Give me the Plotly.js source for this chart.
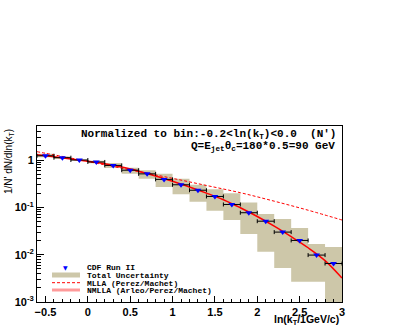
<!DOCTYPE html>
<html>
<head>
<meta charset="utf-8">
<script src="https://cdn.plot.ly/plotly-3.0.1.min.js"></script>
<style>
  html, body { margin: 0; padding: 0; background: white; }
  #chart { width: 409px; height: 327px; }
</style>
</head>
<body>
<div id="chart"></div>
<script>
// CDF Run II, bin centres in ln(kT/1GeV/c), bins 0.2 wide
const binCenters = [-0.5, -0.3, -0.1, 0.1, 0.3, 0.5, 0.7, 0.9, 1.1, 1.3, 1.5, 1.7, 1.9, 2.1, 2.3, 2.5, 2.7, 2.9];
const binWidth = 0.2;
const cdfValues = [1.23, 1.12, 1.00, 0.91, 0.77, 0.61, 0.51, 0.39, 0.30, 0.23, 0.17, 0.115, 0.077, 0.051, 0.030, 0.020, 0.0098, 0.0065];
// total uncertainty band (lower / upper edge of each box)
const bandLow  = [1.14, 1.05, 0.98, 0.86, 0.68, 0.51, 0.40, 0.27, 0.19, 0.131, 0.085, 0.054, 0.0273, 0.0115, 0.0052, 0.00267, 0.00267, 0.0008];
const bandHigh = [1.36, 1.19, 1.02, 0.96, 0.87, 0.69, 0.61, 0.51, 0.40, 0.30, 0.24, 0.198, 0.126, 0.072, 0.0566, 0.0365, 0.0168, 0.0145];

// MLLA (Perez/Machet)
const mllaX = [-0.6, -0.2, 0.2, 0.6, 1.0, 1.4, 1.8, 2.2, 2.6, 3.0];
const mllaY = [1.50, 1.10, 0.79, 0.57, 0.41, 0.29, 0.204, 0.135, 0.087, 0.054];

// NMLLA (Arleo/Perez/Machet)
const nmllaX = [-0.6, -0.4, -0.2, 0, 0.2, 0.4, 0.6, 0.8, 1.0, 1.2, 1.4, 1.6, 1.8, 2.0, 2.2, 2.4, 2.6, 2.8, 3.0];
const nmllaY = [1.30, 1.17, 1.05, 0.94, 0.83, 0.71, 0.58, 0.46, 0.355, 0.27, 0.20, 0.145, 0.098, 0.064, 0.040, 0.024, 0.014, 0.0075, 0.0032];

const yTickVals = [0.001, 0.01, 0.1, 1];
const yTickText = ['10<sup>-3</sup>', '10<sup>-2</sup>', '10<sup>-1</sup>', '1'];

const tan = '#cdc7a9';
const mono = 'Liberation Mono';

// boxes of the uncertainty band, one closed polygon per bin
const boxX = [], boxY = [];
binCenters.forEach((c, i) => {
    const lo = c - binWidth / 2, hi = c + binWidth / 2;
    boxX.push(lo, hi, hi, lo, lo, null);
    boxY.push(bandLow[i], bandLow[i], bandHigh[i], bandHigh[i], bandLow[i], null);
});

// minor ticks on log axis: 2..9 per decade
const minorY = [];
[0.001, 0.01, 0.1, 1].forEach(d => {
    for (let k = 2; k <= 9; k++) minorY.push(d * k);
});

const traces = [
    {
        x: boxX, y: boxY, type: 'scatter', mode: 'none',
        fill: 'toself', fillcolor: tan, hoverinfo: 'skip'
    },
    {
        x: mllaX, y: mllaY, type: 'scatter', mode: 'lines',
        line: { color: '#ff0000', width: 1, dash: '3px,2px', shape: 'spline' }
    },
    {
        x: nmllaX, y: nmllaY, type: 'scatter', mode: 'lines',
        line: { color: '#ff0000', width: 1.5, shape: 'spline' }
    },
    {
        x: binCenters, y: cdfValues, type: 'scatter', mode: 'markers',
        marker: { symbol: 'triangle-down', size: 6, color: '#0000ff' },
        error_x: { type: 'constant', value: binWidth / 2, color: 'black', thickness: 1, width: 2 }
    }
];

// helpers: page pixel -> paper coordinates (plot area 37..342 x 126..302)
const px = p => (p - 37) / 305;
const py = p => (302 - p) / 176;

const legendFont = { family: mono, size: 8, color: 'black', weight: 'bold' };
const annotations = [
    {
        text: "Normalized to bin:-0.2<ln(k<sub>T</sub>)<0.0  (N')",
        xref: 'paper', yref: 'paper', x: px(338), y: py(134),
        xanchor: 'right', yanchor: 'middle', showarrow: false,
        font: { family: mono, size: 11, color: 'black', weight: 'bold' }
    },
    {
        text: 'Q=E<sub>jet</sub>θ<sub>c</sub>=180*0.5=90 GeV',
        xref: 'paper', yref: 'paper', x: px(337), y: py(146),
        xanchor: 'right', yanchor: 'middle', showarrow: false,
        font: { family: mono, size: 11, color: 'black', weight: 'bold' }
    },
    {
        // rotated text: plotly anchors on the unrotated box, hence the offset
        text: "1/N' dN/dln(k<sub>T</sub>)", textangle: -90,
        xref: 'paper', yref: 'paper', x: px(9), y: py(162),
        xanchor: 'center', yanchor: 'middle', showarrow: false,
        font: { family: 'Liberation Sans', size: 10, color: 'black' }
    },
    {
        text: 'ln(k<sub>T</sub>/1GeV/c)',
        xref: 'paper', yref: 'paper', x: px(341), y: py(320),
        xanchor: 'right', yanchor: 'middle', showarrow: false,
        font: { family: 'Liberation Sans', size: 10.5, color: 'black', weight: 'bold' }
    },
    // legend
    {
        text: '▼', xref: 'paper', yref: 'paper', x: px(65), y: py(267),
        xanchor: 'center', yanchor: 'middle', showarrow: false,
        font: { family: 'DejaVu Sans', size: 6, color: '#0000ff' }
    },
    { text: 'CDF Run II', xref: 'paper', yref: 'paper', x: px(85), y: py(267), xanchor: 'left', yanchor: 'middle', showarrow: false, font: legendFont },
    { text: 'Total Uncertainty', xref: 'paper', yref: 'paper', x: px(85), y: py(275), xanchor: 'left', yanchor: 'middle', showarrow: false, font: legendFont },
    { text: 'MLLA (Perez/Machet)', xref: 'paper', yref: 'paper', x: px(85), y: py(283), xanchor: 'left', yanchor: 'middle', showarrow: false, font: legendFont },
    { text: 'NMLLA (Arleo/Perez/Machet)', xref: 'paper', yref: 'paper', x: px(85), y: py(290.5), xanchor: 'left', yanchor: 'middle', showarrow: false, font: legendFont }
];

const shapes = [
    { type: 'rect', xref: 'paper', yref: 'paper', x0: px(52), x1: px(80), y0: py(277.5), y1: py(272.5), fillcolor: tan, line: { width: 0 } },
    { type: 'line', xref: 'paper', yref: 'paper', x0: px(52), x1: px(80), y0: py(282.7), y1: py(282.7), line: { color: '#ff0000', width: 1, dash: '3px,2px' } },
    { type: 'line', xref: 'paper', yref: 'paper', x0: px(52), x1: px(80), y0: py(290), y1: py(290), line: { color: '#ff9a9a', width: 3 } }
];

const tickFont = { family: 'Liberation Sans', size: 11, color: 'black', weight: 'bold' };

const layout = {
    width: 409,
    height: 327,
    margin: { l: 37, r: 67, t: 126, b: 25 },
    paper_bgcolor: 'white',
    plot_bgcolor: 'white',
    showlegend: false,
    xaxis: {
        range: [-0.6, 3.0],
        tickmode: 'linear', tick0: 0, dtick: 0.5,
        ticks: 'inside', ticklen: 6, tickcolor: 'black',
        minor: { dtick: 0.1, ticks: 'inside', ticklen: 3, tickcolor: 'black' },
        showline: true, linecolor: 'black', linewidth: 1, mirror: true,
        showgrid: false, zeroline: false,
        tickfont: tickFont
    },
    yaxis: {
        type: 'log',
        range: [-3, 0.719],
        tickmode: 'array', tickvals: yTickVals, ticktext: yTickText,
        ticks: 'inside', ticklen: 7, tickcolor: 'black',
        minor: { tickmode: 'array', tickvals: minorY, ticks: 'inside', ticklen: 4, tickcolor: 'black' },
        showline: true, linecolor: 'black', linewidth: 1, mirror: true,
        showgrid: false, zeroline: false,
        tickfont: tickFont
    },
    annotations: annotations,
    shapes: shapes
};

Plotly.newPlot('chart', traces, layout, { staticPlot: true, displayModeBar: false });
</script>
</body>
</html>
